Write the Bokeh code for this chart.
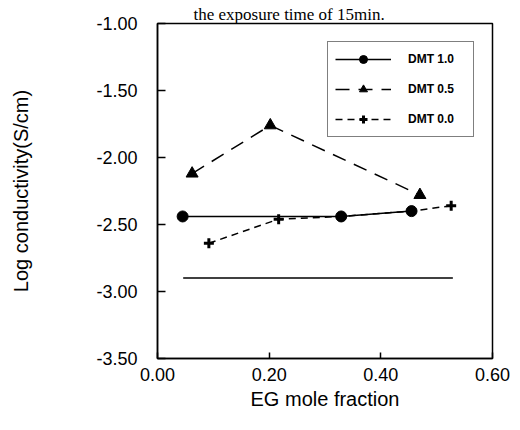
from bokeh.plotting import figure
from bokeh.models import Range1d, FixedTicker, PrintfTickFormatter, Legend, LegendItem
from bokeh.embed import file_html
from bokeh.resources import INLINE

# ---- data ----
title_text = "the exposure time of 15min."
x_label = "EG mole fraction"
y_label = "Log conductivity(S/cm)"

x_ticks = [0.0, 0.2, 0.4, 0.6]
y_ticks = [-1.0, -1.5, -2.0, -2.5, -3.0, -3.5]

dmt10_x = [0.045, 0.329, 0.455]
dmt10_y = [-2.44, -2.44, -2.40]

dmt05_x = [0.062, 0.202, 0.470]
dmt05_y = [-2.12, -1.76, -2.28]

dmt00_x = [0.092, 0.217, 0.329, 0.455, 0.526]
dmt00_y = [-2.64, -2.46, -2.44, -2.40, -2.36]

base_x = [0.046, 0.529]
base_y = [-2.90, -2.90]

series_names = ["DMT 1.0", "DMT 0.5", "DMT 0.0"]

FONT = "Liberation Sans"

p = figure(width=512, height=422, output_backend="svg", toolbar_location=None,
           x_range=Range1d(0.0, 0.6), y_range=Range1d(-3.5, -1.0),
           min_border_left=157, min_border_right=20, min_border_top=23, min_border_bottom=64)

p.title.text = title_text
p.title.text_font = "Liberation Serif"
p.title.text_font_size = "17px"
p.title.text_font_style = "normal"
p.title.text_color = "black"
p.title.align = "left"
p.title.offset = 36
p.title.standoff = 0

p.xgrid.visible = False
p.ygrid.visible = False
p.background_fill_color = "white"
p.border_fill_color = "white"
p.outline_line_color = "black"
p.outline_line_width = 1.5
p.outline_line_alpha = 1.0

for ax in (p.xaxis[0], p.yaxis[0]):
    ax.axis_line_color = "black"
    ax.axis_line_width = 1.5
    ax.major_tick_out = 0
    ax.minor_tick_in = 0
    ax.minor_tick_out = 0
    ax.major_tick_line_width = 1.5
    ax.major_label_text_font = FONT
    ax.major_label_text_font_size = "18px"
    ax.major_label_text_color = "black"
    ax.axis_label_text_font = FONT
    ax.axis_label_text_font_size = "20px"
    ax.axis_label_text_font_style = "normal"
    ax.axis_label_text_color = "black"

p.xaxis.ticker = FixedTicker(ticks=x_ticks)
p.yaxis.ticker = FixedTicker(ticks=y_ticks)
p.xaxis.formatter = PrintfTickFormatter(format="%.2f")
p.yaxis.formatter = PrintfTickFormatter(format="%.2f")
p.xaxis.major_tick_in = 6
p.yaxis.major_tick_in = 8
p.xaxis.major_label_standoff = 9
p.yaxis.major_label_standoff = 20
p.xaxis.axis_label = x_label
p.yaxis.axis_label = y_label
p.xaxis.axis_label_standoff = 4
p.yaxis.axis_label_standoff = 61

# reference baseline line
p.line(base_x, base_y, line_color="black", line_width=1.5)

# DMT 0.0 (short dashes, crosses)
l00 = p.line(dmt00_x, dmt00_y, line_color="black", line_width=1.5, line_dash="7 5")
s00 = p.scatter(dmt00_x, dmt00_y, marker="cross", size=10, line_color="black", line_width=3)

# DMT 0.5 (long dashes, triangles)
l05 = p.line(dmt05_x, dmt05_y, line_color="black", line_width=1.5, line_dash="14 9")
s05 = p.scatter(dmt05_x, dmt05_y, marker="triangle", size=12, fill_color="black", line_color="black")

# DMT 1.0 (solid, circles)
l10 = p.line(dmt10_x, dmt10_y, line_color="black", line_width=1.5)
s10 = p.scatter(dmt10_x, dmt10_y, marker="circle", size=11, fill_color="black", line_color="black")

legend = Legend(items=[
    LegendItem(label=series_names[0], renderers=[l10, s10]),
    LegendItem(label=series_names[1], renderers=[l05, s05]),
    LegendItem(label=series_names[2], renderers=[l00, s00]),
], location=(170, 221))
legend.glyph_width = 56
legend.glyph_height = 20
legend.label_height = 20
legend.label_width = 58
legend.spacing = 10
legend.padding = 7
legend.margin = 0
legend.label_standoff = 17
legend.border_line_color = "black"
legend.border_line_width = 1
legend.background_fill_color = "white"
legend.background_fill_alpha = 1.0
legend.label_text_font = FONT
legend.label_text_font_size = "12px"
legend.label_text_font_style = "bold"
legend.label_text_color = "black"
p.add_layout(legend)

open("out.html", "w").write(file_html(p, INLINE))
